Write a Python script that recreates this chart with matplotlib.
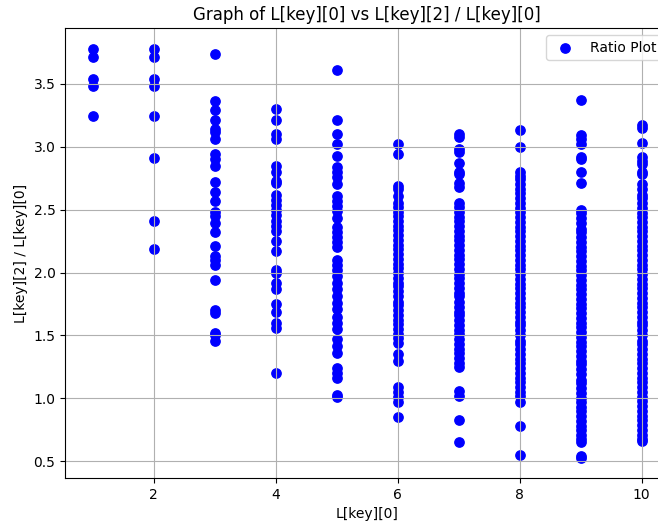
import numpy as np
import matplotlib
matplotlib.use('Agg')
import matplotlib.pyplot as plt

# ratio values, grouped by L[key][0]
y1 = [3.78, 3.71, 3.54, 3.48, 3.24]
y2 = [3.78, 3.71, 3.54, 3.48, 3.24, 2.91, 2.41, 2.19]
y3 = [3.74, 3.36, 3.29, 3.21, 3.14, 3.12, 3.06, 2.94, 2.90, 2.85, 2.72, 2.64,
      2.57, 2.48, 2.45, 2.39, 2.32, 2.21, 2.13, 2.10, 2.06, 1.94, 1.70, 1.68,
      1.52, 1.50, 1.46]
y4 = [3.30, 3.21, 3.10, 3.06, 2.85, 2.80, 2.73, 2.71, 2.62, 2.58, 2.54, 2.50,
      2.46, 2.41, 2.37, 2.33, 2.25, 2.17, 2.02, 2.00, 1.92, 1.87, 1.75, 1.69,
      1.60, 1.56, 1.20]
y5 = [3.61, 3.21, 3.10, 3.02, 2.93, 2.84, 2.80, 2.76, 2.70, 2.61, 2.57, 2.53,
      2.49, 2.43, 2.36, 2.32, 2.28, 2.24, 2.20, 2.10, 2.06, 2.02, 1.97, 1.92,
      1.87, 1.81, 1.76, 1.71, 1.65, 1.60, 1.55, 1.47, 1.42, 1.36, 1.24, 1.20,
      1.16, 1.03, 1.01]
y6 = [3.02, 2.94, 2.69, 2.66, 2.61, 2.55, 2.52, 2.48, 2.45, 2.41, 2.37, 2.34,
      2.30, 2.26, 2.22, 2.19, 2.15, 2.11, 2.07, 2.04, 2.00, 1.96, 1.92, 1.89,
      1.85, 1.81, 1.77, 1.74, 1.70, 1.66, 1.62, 1.59, 1.55, 1.51, 1.48, 1.44,
      1.35, 1.30, 1.09, 1.05, 1.01, 0.97, 0.85]
y7 = [3.10, 3.08, 2.98, 2.96, 2.87, 2.80, 2.78, 2.71, 2.68, 2.55, 2.52, 2.48,
      2.44, 2.41, 2.37, 2.33, 2.29, 2.26, 2.22, 2.18, 2.14, 2.11, 2.07, 2.03,
      1.99, 1.96, 1.92, 1.88, 1.84, 1.81, 1.77, 1.73, 1.69, 1.66, 1.62, 1.58,
      1.54, 1.51, 1.47, 1.43, 1.39, 1.36, 1.32, 1.28, 1.25, 1.06, 1.02, 0.83,
      0.65]
y8 = [3.13, 3.00, 2.80, 2.77, 2.74, 2.70, 2.66, 2.63, 2.59, 2.55, 2.51, 2.48,
      2.44, 2.40, 2.36, 2.33, 2.29, 2.25, 2.21, 2.18, 2.14, 2.10, 2.06, 2.03,
      1.99, 1.95, 1.91, 1.88, 1.84, 1.80, 1.76, 1.73, 1.69, 1.65, 1.61, 1.58,
      1.54, 1.50, 1.46, 1.43, 1.39, 1.35, 1.31, 1.28, 1.24, 1.20, 1.16, 1.13,
      1.09, 1.05, 1.02, 0.97, 0.78, 0.55]
y9 = [3.37, 3.09, 3.06, 3.02, 2.92, 2.90, 2.80, 2.71, 2.50, 2.47, 2.43, 2.39,
      2.35, 2.32, 2.28, 2.24, 2.20, 2.17, 2.13, 2.09, 2.05, 2.02, 1.98, 1.94,
      1.90, 1.87, 1.83, 1.79, 1.75, 1.72, 1.68, 1.64, 1.60, 1.57, 1.53, 1.49,
      1.45, 1.42, 1.38, 1.34, 1.30, 1.27, 1.23, 1.19, 1.15, 1.12, 1.08, 1.04,
      1.00, 0.97, 0.93, 0.90, 0.86, 0.82, 0.78, 0.75, 0.71, 0.68, 0.65, 0.54,
      0.53]
y10 = [3.17, 3.15, 3.03, 2.92, 2.89, 2.86, 2.80, 2.78, 2.70, 2.66, 2.62, 2.59,
       2.55, 2.51, 2.47, 2.44, 2.40, 2.36, 2.33, 2.29, 2.25, 2.21, 2.18, 2.14,
       2.10, 2.06, 2.03, 1.99, 1.95, 1.91, 1.88, 1.84, 1.80, 1.76, 1.73, 1.69,
       1.65, 1.61, 1.58, 1.54, 1.50, 1.46, 1.43, 1.39, 1.35, 1.31, 1.28, 1.24,
       1.20, 1.16, 1.13, 1.09, 1.05, 1.01, 0.98, 0.94, 0.90, 0.86, 0.83, 0.79,
       0.75, 0.71, 0.68, 0.66]

groups = [y1, y2, y3, y4, y5, y6, y7, y8, y9, y10]
x_vals = np.concatenate([np.full(len(g), i + 1) for i, g in enumerate(groups)])
ratios = np.concatenate([np.array(g) for g in groups])

fig = plt.figure(figsize=(6.58, 5.25), dpi=100)
# the reference is cropped on the right, so the axes run past the figure edge
ax = fig.add_axes([0.099, 0.0895, 0.918, 0.857])
ax.scatter(x_vals, ratios, color='blue', s=45, label='Ratio Plot')
ax.set_title('Graph of L[key][0] vs L[key][2] / L[key][0]')
ax.set_xlabel('L[key][0]')
ax.set_ylabel('L[key][2] / L[key][0]')
ax.legend(loc='upper right')
ax.grid(True)

fig.savefig('out.png', dpi=100)
